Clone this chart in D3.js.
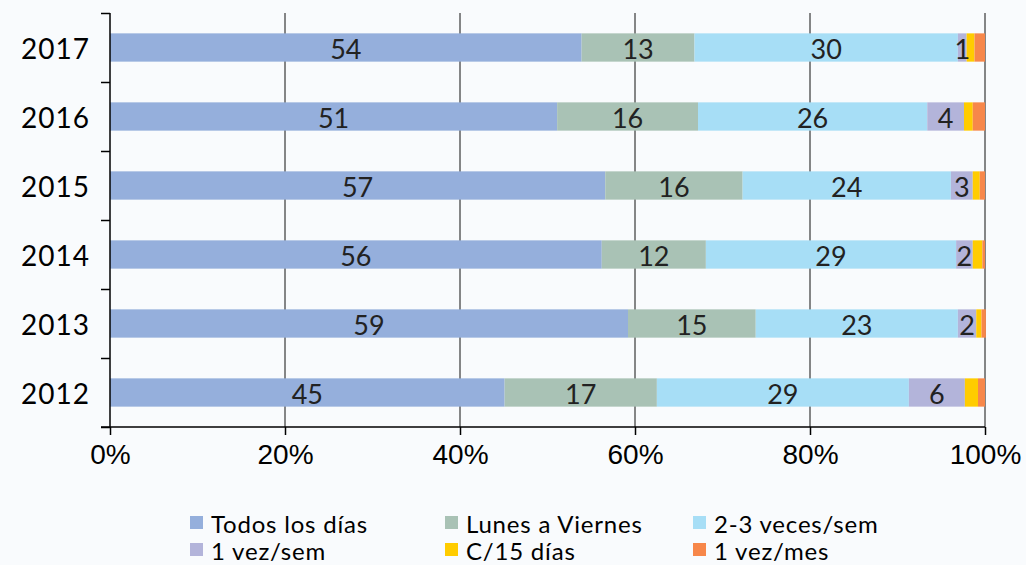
<!DOCTYPE html>
<html lang="es">
<head>
<meta charset="utf-8" />
<style>
    body { margin: 0; background: #f9fbfd; }
    svg { display: block; font-family: "Lato", "DejaVu Sans", sans-serif; }
    .grid line { stroke: #111; stroke-width: 1px; }
    .axis path, .axis line { stroke: #000; stroke-width: 1.5px; }
    .axis text { fill: #000; font-size: 28px; }
    .ylab { font-size: 29px; letter-spacing: 1px; }
    .lbl { font-size: 27px; fill: #222; text-anchor: middle; dominant-baseline: central; }
    .legend text { font-size: 24px; fill: #000; dominant-baseline: central; letter-spacing: 0.8px; }
</style>
</head>
<body>
<svg width="1026" height="565"></svg>
<script src="https://cdn.jsdelivr.net/npm/d3@7/dist/d3.min.js"></script>
<script>

    var years = ["2017", "2016", "2015", "2014", "2013", "2012"];
    var series = ["Todos los días", "Lunes a Viernes", "2-3 veces/sem", "1 vez/sem", "C/15 días", "1 vez/mes"];
    var colors = ["#95afdc", "#a9c2b5", "#a7def6", "#b3b4da", "#ffcc00", "#f7874a"];

    // values per series, in years order
    var todos   = [53.9, 51.1, 56.6, 56.2, 59.2, 45.1];
    var lunes   = [12.9, 16.1, 15.7, 11.9, 14.6, 17.4];
    var veces23 = [30.1, 26.2, 23.8, 28.6, 23.1, 28.8];
    var vezSem  = [1.0, 4.2, 2.5, 1.9, 2.1, 6.4];
    var quince  = [0.9, 1.0, 0.8, 1.1, 0.6, 1.5];
    var vezMes  = [1.2, 1.4, 0.6, 0.3, 0.5, 0.8];
    var ticks = [0, 20, 40, 60, 80, 100];

    var values = [todos, lunes, veces23, vezSem, quince, vezMes];
    var labelled = [true, true, true, true, false, false];

    var svg = d3.select("svg"),
        pLeft = 110, pRight = 985, pTop = 13, pBottom = 427;

    var x = d3.scaleLinear().domain([0, 100]).range([pLeft, pRight]);
    var y = d3.scaleBand().domain(years).range([pTop, pBottom]).paddingInner(0.59).paddingOuter(0.295);

    // gridlines
    svg.append("g").attr("class", "grid")
        .selectAll("line")
        .data(ticks.slice(1))
        .enter().append("line")
        .attr("x1", function(d) { return x(d); })
        .attr("x2", function(d) { return x(d); })
        .attr("y1", pTop)
        .attr("y2", pBottom);

    var rows = years.map(function(yr, i) {
        var row = { year: yr };
        series.forEach(function(s, j) { row[s] = values[j][i]; });
        return row;
    });

    var stack = d3.stack().keys(series)(rows);

    var layer = svg.append("g").selectAll("g")
        .data(stack)
        .enter().append("g")
        .attr("fill", function(d, i) { return colors[i]; });

    layer.selectAll("rect")
        .data(function(d) { return d; })
        .enter().append("rect")
        .attr("x", function(d) { return x(d[0]); })
        .attr("width", function(d) { return x(d[1]) - x(d[0]); })
        .attr("y", function(d) { return y(d.data.year); })
        .attr("height", y.bandwidth());

    svg.append("g").selectAll("g")
        .data(stack.filter(function(d, i) { return labelled[i]; }))
        .enter().append("g")
        .selectAll("text")
        .data(function(d) { return d; })
        .enter().append("text")
        .attr("class", "lbl")
        .attr("x", function(d) { return (x(d[0]) + x(d[1])) / 2; })
        .attr("y", function(d) { return y(d.data.year) + y.bandwidth() / 2 + 1; })
        .text(function(d) { return Math.round(d[1] - d[0]); });

    // axes
    var yAxisScale = d3.scalePoint().domain(d3.range(7)).range([pTop, pBottom]);
    var ya = svg.append("g").attr("class", "axis")
        .attr("transform", "translate(" + pLeft + ",0)")
        .call(d3.axisLeft(yAxisScale).tickSize(9).tickFormat(""));
    ya.select(".domain").attr("d", "M0," + pTop + "V" + pBottom);

    svg.append("g").attr("class", "axis")
        .selectAll("text")
        .data(years)
        .enter().append("text")
        .attr("class", "ylab")
        .attr("x", 90)
        .attr("y", function(d) { return y(d) + y.bandwidth() / 2; })
        .attr("text-anchor", "end")
        .attr("dominant-baseline", "central")
        .text(function(d) { return d; });

    var xa = svg.append("g").attr("class", "axis")
        .attr("transform", "translate(0," + pBottom + ")")
        .call(d3.axisBottom(x).tickValues(ticks).tickSize(8).tickSizeOuter(0)
            .tickFormat(function(d) { return d + "%"; }));
    xa.select(".domain").attr("d", "M" + (pLeft - 9) + ",0H" + pRight);
    xa.selectAll("text").attr("dy", "0.3em").attr("y", 29);

    // legend
    var legX = [190, 445, 693], legY = [522, 549];
    var leg = svg.append("g").attr("class", "legend")
        .selectAll("g")
        .data(series)
        .enter().append("g")
        .attr("transform", function(d, i) {
            return "translate(" + legX[i % 3] + "," + legY[Math.floor(i / 3)] + ")";
        });
    leg.append("rect")
        .attr("x", 0).attr("y", -6).attr("width", 13).attr("height", 13)
        .attr("fill", function(d, i) { return colors[i]; });
    leg.append("text")
        .attr("x", 21).attr("y", 1)
        .text(function(d) { return d; });

</script>
</body>
</html>
